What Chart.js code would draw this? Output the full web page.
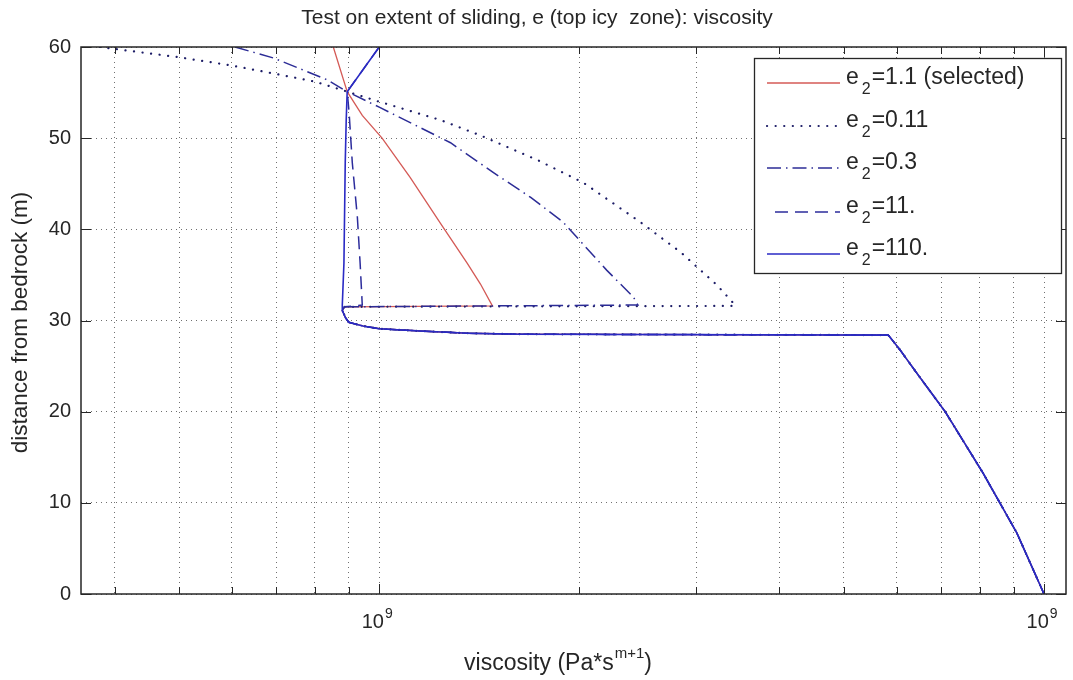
<!DOCTYPE html>
<html>
<head>
<meta charset="utf-8">
<title>Test on extent of sliding</title>
<script src="https://cdn.jsdelivr.net/npm/chart.js@4.4.1/dist/chart.umd.min.js"></script>
<style>
  html, body { margin: 0; padding: 0; background: #fff; }
  #wrap { width: 1073px; height: 680px; }
</style>
</head>
<body>
<div id="wrap"><canvas id="chart" width="1073" height="680"></canvas></div>
<script>
'use strict';

// ── Data: viscosity (x, log) vs distance from bedrock (y, m) ──
// shared lower part (below the step at ~31 m)
const lowerVisc  = [8.8e7, 8.9e7, 9.0e7, 9.45e7, 1.0e8, 1.15e8, 1.36e8, 1.63e8, 5.83e8, 6.07e8, 6.44e8, 7.1e8, 8.09e8, 9.1e8, 1.0e9];
const lowerDepth = [31.1, 30.3, 29.8, 29.4, 29.1, 28.85, 28.6, 28.5, 28.4, 26.8, 24.2, 20.0, 13.3, 6.7, 0];

// upper parts, one per e2 value
const e2_1_1Visc   = [8.53e7, 8.95e7, 9.43e7, 1.01e8, 1.113e8, 1.235e8, 1.356e8, 1.42e8, 1.48e8, 8.87e7];
const e2_1_1Depth  = [60, 55.1, 52.5, 50.0, 45.7, 40.7, 36.3, 34.0, 31.6, 31.5];
const e2_0_11Visc  = [3.8e7, 4.97e7, 5.97e7, 6.93e7, 8.01e7, 8.95e7, 1.0e8, 1.235e8, 1.42e8, 1.73e8, 2.03e8, 2.47e8, 2.84e8, 3.22e8, 3.41e8, 3.43e8, 8.87e7];
const e2_0_11Depth = [60, 58.9, 58.0, 57.1, 56.2, 55.1, 54.0, 52.0, 50.3, 47.6, 45.1, 40.8, 37.5, 33.9, 31.9, 31.6, 31.5];
const e2_0_3Visc   = [6.07e7, 6.93e7, 7.79e7, 8.35e7, 8.95e7, 1.0e8, 1.28e8, 1.48e8, 1.69e8, 1.89e8, 2.20e8, 2.41e8, 2.45e8, 8.87e7];
const e2_0_3Depth  = [60, 58.8, 57.3, 56.4, 55.1, 53.4, 49.5, 46.3, 43.5, 40.8, 35.5, 32.6, 31.7, 31.5];
const e2_11Visc    = [1.0e8, 8.95e7, 9.01e7, 9.11e7, 9.27e7, 9.36e7, 9.43e7, 8.87e7];
const e2_11Depth   = [60, 55.1, 52.8, 47.3, 41.4, 36.3, 31.7, 31.5];
const e2_110Visc   = [1.0e8, 8.95e7, 8.92e7, 8.89e7, 8.85e7, 8.8e7];
const e2_110Depth  = [60, 55.1, 52.0, 47.3, 36.3, 31.7];

const legendText = ['=1.1 (selected)', '=0.11', '=0.3', '=11.', '=110.'];

// ticks
const xTickVals  = [4e7, 5e7, 6e7, 7e7, 8e7, 9e7, 1e8, 2e8, 3e8, 4e8, 5e8, 6e8, 7e8, 8e8, 9e8, 1e9];
const xDecades   = [1e8, 1e9];
const xDecadeTxt = ['10', '10'];
const xDecadeSup = ['9', '9'];
const yTickVals  = [0, 10, 20, 30, 40, 50, 60];

const FONT = "'Liberation Sans', Arial, Helvetica, sans-serif";
const INK  = '#262626';

function pts(xs, ys) {
  return xs.map((x, i) => ({ x, y: ys[i] }));
}
function withLower(xs, ys) {
  return pts(xs, ys).concat(pts(lowerVisc, lowerDepth));
}

const series = [
  { data: withLower(e2_1_1Visc,  e2_1_1Depth),  color: '#d45a56', width: 1.3, dash: [],             cap: 'butt'  },
  { data: withLower(e2_0_11Visc, e2_0_11Depth), color: '#1c1c66', width: 2.2, dash: [0.1, 8.5],     cap: 'round' },
  { data: withLower(e2_0_3Visc,  e2_0_3Depth),  color: '#2c2c96', width: 1.5, dash: [14, 5, 1.5, 5], cap: 'butt'  },
  { data: withLower(e2_11Visc,   e2_11Depth),   color: '#2c2c9c', width: 1.5, dash: [13, 7],        cap: 'butt'  },
  { data: withLower(e2_110Visc,  e2_110Depth),  color: '#2a2ac4', width: 1.6, dash: [],             cap: 'butt'  },
];

// ── text helpers ──
function drawSup(ctx, base, sup, cx, baseline, size, supSize, rise) {
  ctx.font = `${size}px ${FONT}`;
  const w1 = ctx.measureText(base).width;
  ctx.font = `${supSize}px ${FONT}`;
  const w2 = ctx.measureText(sup).width;
  const x0 = cx - (w1 + w2 + 1) / 2;
  ctx.textAlign = 'left';
  ctx.textBaseline = 'alphabetic';
  ctx.font = `${size}px ${FONT}`;
  ctx.fillText(base, x0, baseline);
  ctx.font = `${supSize}px ${FONT}`;
  ctx.fillText(sup, x0 + w1 + 1, baseline - rise);
}

function line(ctx, x1, y1, x2, y2) {
  ctx.beginPath();
  ctx.moveTo(x1, y1);
  ctx.lineTo(x2, y2);
  ctx.stroke();
}

// ── MATLAB-like frame, labels, legend ──
const matlabAxes = {
  id: 'matlabAxes',
  beforeDraw(chart) {
    const ctx = chart.ctx;
    ctx.save();
    ctx.fillStyle = '#fff';
    ctx.fillRect(0, 0, chart.width, chart.height);
    ctx.restore();
  },
  afterDraw(chart) {
    const { ctx, chartArea: a, scales: { x, y } } = chart;
    ctx.save();
    ctx.fillStyle = INK;
    ctx.strokeStyle = INK;

    // box
    ctx.lineWidth = 1.5;
    ctx.strokeRect(a.left, a.top, a.right - a.left, a.bottom - a.top);

    // inward ticks
    ctx.lineWidth = 1;
    xTickVals.forEach(v => {
      const px = Math.round(x.getPixelForValue(v)) + 0.5;
      const len = xDecades.includes(v) ? 10 : 7;
      line(ctx, px, a.bottom, px, a.bottom - len);
      line(ctx, px, a.top, px, a.top + len);
    });
    yTickVals.forEach(v => {
      const py = Math.round(y.getPixelForValue(v)) + 0.5;
      line(ctx, a.left, py, a.left + 10, py);
      line(ctx, a.right, py, a.right - 10, py);
    });

    // x tick labels (10^9)
    xDecades.forEach((v, i) => {
      drawSup(ctx, xDecadeTxt[i], xDecadeSup[i], x.getPixelForValue(v) - 2, 628, 20, 14, 10);
    });

    // title
    ctx.font = `21px ${FONT}`;
    ctx.textAlign = 'center';
    ctx.textBaseline = 'middle';
    ctx.fillText('Test on extent of sliding, e (top icy  zone): viscosity', 537, 18);

    // x axis title with superscript
    ctx.font = `23px ${FONT}`;
    const partA = 'viscosity (Pa*s';
    const wA = ctx.measureText(partA).width;
    ctx.font = `15px ${FONT}`;
    const wS = ctx.measureText('m+1').width;
    ctx.font = `23px ${FONT}`;
    const wC = ctx.measureText(')').width;
    let xs = 558 - (wA + wS + wC + 1) / 2;
    ctx.textAlign = 'left';
    ctx.textBaseline = 'alphabetic';
    ctx.fillText(partA, xs, 670);
    ctx.font = `15px ${FONT}`;
    ctx.fillText('m+1', xs + wA + 1, 658);
    ctx.font = `23px ${FONT}`;
    ctx.fillText(')', xs + wA + wS + 1, 670);

    // y axis title
    ctx.save();
    ctx.translate(21, (a.top + a.bottom) / 2 + 2);
    ctx.rotate(-Math.PI / 2);
    ctx.font = `22.5px ${FONT}`;
    ctx.textAlign = 'center';
    ctx.textBaseline = 'middle';
    ctx.fillText('distance from bedrock (m)', 0, 0);
    ctx.restore();

    // legend
    const L = { left: 754, top: 58, right: 1061, bottom: 273 };
    ctx.fillStyle = '#fff';
    ctx.fillRect(L.left, L.top, L.right - L.left, L.bottom - L.top);
    ctx.strokeStyle = INK;
    ctx.lineWidth = 1.3;
    ctx.strokeRect(L.left + 0.5, L.top + 0.5, L.right - L.left, L.bottom - L.top);
    const rowY = [83, 126, 168, 212, 254];
    series.forEach((s, i) => {
      const ry = rowY[i];
      ctx.save();
      ctx.strokeStyle = s.color;
      ctx.lineWidth = s.width;
      ctx.lineCap = s.cap;
      ctx.setLineDash(s.dash);
      line(ctx, i === 3 ? 775 : 767, ry, 840, ry);
      ctx.restore();

      ctx.fillStyle = INK;
      ctx.textAlign = 'left';
      ctx.textBaseline = 'alphabetic';
      ctx.font = `23px ${FONT}`;
      ctx.fillText('e', 846, ry + 1);
      const we = ctx.measureText('e').width;
      ctx.font = `16px ${FONT}`;
      ctx.fillText('2', 846 + we + 3, ry + 11);
      const w2 = ctx.measureText('2').width;
      ctx.font = `23px ${FONT}`;
      ctx.fillText(legendText[i], 846 + we + 3 + w2 + 1, ry + 1);
    });

    ctx.restore();
  }
};

const gridOpts = { color: '#707070', lineWidth: 1, drawTicks: false };
const borderOpts = { display: false, dash: [1, 4] };

new Chart(document.getElementById('chart'), {
  type: 'scatter',
  data: {
    datasets: series.map((s, i) => ({
      label: 'e2' + legendText[i],
      data: s.data,
      showLine: true,
      borderColor: s.color,
      backgroundColor: s.color,
      borderWidth: s.width,
      borderDash: s.dash,
      borderCapStyle: s.cap,
      pointRadius: 0,
      tension: 0,
      order: series.length - i,
    })),
  },
  options: {
    responsive: false,
    animation: false,
    events: [],
    layout: { padding: { left: 0, top: 47, right: 7, bottom: 0 } },
    plugins: {
      legend:  { display: false },
      title:   { display: false },
      tooltip: { enabled: false },
    },
    scales: {
      x: {
        type: 'logarithmic',
        min: 3.56e7,
        max: 1.079e9,
        afterBuildTicks: s => { s.ticks = xTickVals.map(v => ({ value: v })); },
        afterFit: s => { s.height = 86; },
        ticks: { callback: () => '', autoSkip: false, maxRotation: 0 },
        grid: gridOpts,
        border: borderOpts,
      },
      y: {
        min: 0,
        max: 60,
        afterBuildTicks: s => { s.ticks = yTickVals.map(v => ({ value: v })); },
        afterFit: s => { s.width = 81; },
        ticks: { padding: 10, color: INK, font: { family: FONT, size: 20 } },
        grid: gridOpts,
        border: borderOpts,
      },
    },
  },
  plugins: [matlabAxes],
});
</script>
</body>
</html>
